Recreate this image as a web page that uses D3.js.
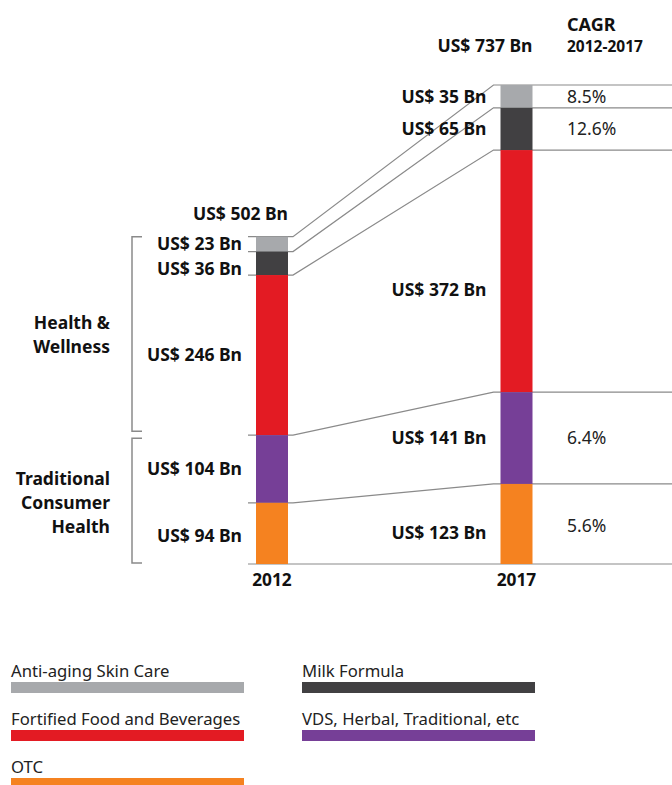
<!DOCTYPE html>
<html>
<head>
<meta charset="utf-8">
<script src="https://cdn.jsdelivr.net/npm/d3@7"></script>
<style>
  body { margin: 0; background: #fff; }
  svg { display: block; font-family: "Noto Sans", "Open Sans", sans-serif; }
  .val { font-weight: 700; font-size: 17.5px; fill: #111; }
</style>
</head>
<body>
<svg id="chart"></svg>
<script>
var years = ["2012", "2017"];
var series = ["Anti-aging Skin Care", "Milk Formula", "Fortified Food and Beverages", "VDS, Herbal, Traditional, etc", "OTC"];
var colors = ["#a7a9ac", "#414042", "#e31b23", "#763f97", "#f58220"];
var values2012 = [23, 36, 246, 104, 94];
var values2017 = [35, 65, 372, 141, 123];
var totals = ["US$ 502 Bn", "US$ 737 Bn"];
var cagr = ["8.5%", "12.6%", null, "6.4%", "5.6%"];
var groups = [
  { name: ["Health &", "Wellness"], from: 0, to: 2 },
  { name: ["Traditional", "Consumer", "Health"], from: 3, to: 4 }
];

var width = 672, height = 785;
var svg = d3.select('#chart').attr('width', width).attr('height', height);

var x = d3.scalePoint().domain(years).range([272, 516.5]);
var barW = 32;
var y = d3.scaleLinear().domain([0, d3.sum(values2017)]).range([564, 85]);

// stack each year top-down in series order
function stackYear(vals) {
  var total = d3.sum(vals);
  var acc = total;
  return vals.map(function (v, i) {
    var top = acc;
    acc -= v;
    return { i: i, v: v, y0: acc, y1: top };
  });
}
var data = [stackYear(values2012), stackYear(values2017)];

// small nudges for labels that aren't centred in the original
var labelDy = { "0-1": 5, "0-4": 2, "1-2": 19, "1-4": 9 };
var totalDy = [-17, -33];

var lineColor = "#8a8a8a";
var left2012 = x("2012") - barW / 2;
var right2012 = x("2012") + barW / 2;
var left2017 = x("2017") - barW / 2;

// connector lines between boundaries
var lines = svg.append("g").attr("fill", "none").attr("stroke", lineColor).attr("stroke-width", 1.2);
data[0].forEach(function (d, i) {
  var yA = y(d.y1), yB = y(data[1][i].y1);
  lines.append("path")
    .attr("d", "M" + (left2012 - 8) + "," + yA + "L" + (right2012 + 5) + "," + yA +
      "L" + (left2017 - 7) + "," + yB + "L" + width + "," + yB);
});
lines.append("path").attr("d", "M" + (left2012 - 8) + "," + y(0) + "L" + width + "," + y(0));

// bars
years.forEach(function (yr, k) {
  svg.append("g").selectAll("rect")
    .data(data[k])
    .enter()
    .append("rect")
    .attr("x", x(yr) - barW / 2)
    .attr("width", barW)
    .attr("y", function (d) { return y(d.y1); })
    .attr("height", function (d) { return y(d.y0) - y(d.y1); })
    .attr("fill", function (d) { return colors[d.i]; });

  svg.append("g").selectAll("text")
    .data(data[k])
    .enter()
    .append("text")
    .attr("class", "val")
    .attr("x", x(yr) - barW / 2 - 14)
    .attr("y", function (d) { return (y(d.y0) + y(d.y1)) / 2 + (labelDy[k + "-" + d.i] || 0); })
    .attr("dy", "0.36em")
    .attr("text-anchor", "end")
    .text(function (d) { return "US$ " + d.v + " Bn"; });

  svg.append("text")
    .attr("class", "val")
    .attr("x", x(yr) + barW / 2)
    .attr("y", y(d3.sum(k ? values2017 : values2012)) + totalDy[k])
    .attr("text-anchor", "end")
    .text(totals[k]);

  svg.append("text")
    .attr("x", x(yr))
    .attr("y", 586)
    .attr("text-anchor", "middle")
    .attr("font-weight", 700)
    .attr("font-size", 17.3)
    .attr("fill", "#111")
    .text(yr);
});

// CAGR column
svg.append("text").attr("x", 567).attr("y", 31)
  .attr("font-weight", 700).attr("font-size", 18).attr("fill", "#111").text("CAGR");
svg.append("text").attr("x", 567).attr("y", 52)
  .attr("font-weight", 700).attr("font-size", 15.5).attr("fill", "#111").text("2012-2017");
svg.append("g").selectAll("text")
  .data(data[1].filter(function (d) { return cagr[d.i]; }))
  .enter()
  .append("text")
  .attr("x", 567)
  .attr("y", function (d) { return (y(d.y0) + y(d.y1)) / 2 + (d.i === 4 ? 2 : 0); })
  .attr("dy", "0.36em")
  .attr("font-size", 17.5)
  .attr("fill", "#222")
  .text(function (d) { return cagr[d.i]; });

// group brackets
var bx = 132;
groups.forEach(function (g, gi) {
  var top = y(data[0][g.from].y1) + (gi ? 3 : 0);
  var bot = y(data[0][g.to].y0) - (gi ? 1 : 4);
  svg.append("path")
    .attr("fill", "none").attr("stroke", lineColor).attr("stroke-width", 1.5)
    .attr("d", "M" + (bx + 10) + "," + top + "H" + bx + "V" + bot + "H" + (bx + 10));
  var mid = (top + bot) / 2;
  var n = g.name.length;
  svg.append("text")
    .attr("text-anchor", "end")
    .attr("font-weight", 700).attr("font-size", 17.5).attr("fill", "#111")
    .selectAll("tspan")
    .data(g.name)
    .enter()
    .append("tspan")
    .attr("x", 110)
    .attr("y", function (d, i) { return mid + (i - (n - 1) / 2) * 24 + (gi ? 2 : 1); })
    .attr("dy", "0.36em")
    .text(function (d) { return d; });
});

// legend
var legend = svg.append("g").selectAll("g")
  .data(series)
  .enter()
  .append("g")
  .attr("transform", function (d, i) {
    return "translate(" + (i % 2 ? 302 : 11) + "," + (677 + Math.floor(i / 2) * 48) + ")";
  });
legend.append("text")
  .attr("font-size", 16.7)
  .attr("fill", "#222")
  .text(function (d) { return d; });
legend.append("rect")
  .attr("y", 5)
  .attr("width", 233)
  .attr("height", 11)
  .attr("fill", function (d, i) { return colors[i]; });
</script>
</body>
</html>
